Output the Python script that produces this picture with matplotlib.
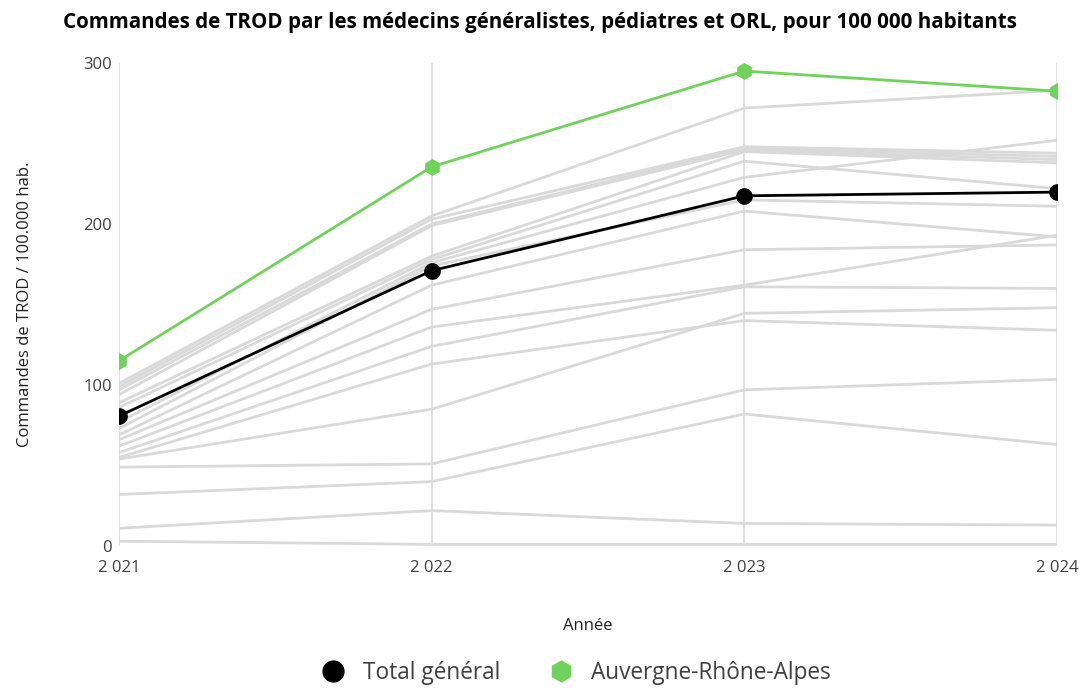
import numpy as np
import matplotlib
matplotlib.use("Agg")
import matplotlib.pyplot as plt
from matplotlib.lines import Line2D

plt.rcParams['font.family'] = ['Open Sans', 'DejaVu Sans']

years = [2021, 2022, 2023, 2024]
year_labels = ["2 021", "2 022", "2 023", "2 024"]

# other regions (grey background lines), values per 100 000 inhabitants
regions_2021 = [101, 99, 97, 94, 89, 86, 77, 73, 69, 66, 62, 58, 55, 54, 49, 32, 11, 3]
regions_2022 = [205, 203, 200, 199, 180, 178, 176, 174, 162, 147, 136, 124, 113, 85, 51, 40, 22, 1]
regions_2023 = [272, 248, 247, 246, 245, 239, 229, 215, 208, 184, 162, 161, 140, 144.5, 97, 82, 14, 1]
regions_2024 = [283, 244, 242, 240, 238, 222, 252, 211, 192, 187, 193, 160, 134, 148, 103.5, 63, 13, 1]

total_general = [80.7, 171, 217.5, 219.8]
auvergne_rha = [115, 235.5, 295, 282.5]

grey = '#d9d9d9'
green = '#6fd25a'

fig = plt.figure(figsize=(10.87, 6.9), dpi=100)
ax = fig.add_axes([0.1095, 0.2087, 0.8629, 0.7])

regions = np.array([regions_2021, regions_2022, regions_2023, regions_2024])
for i in range(regions.shape[1]):
    ax.plot(years, regions[:, i], color=grey, lw=2, zorder=1)

ax.plot(years, total_general, color='black', lw=2, marker='o', ms=11, zorder=3)
ax.plot(years, auvergne_rha, color=green, lw=2, marker='h', ms=11, zorder=3)

ax.set_xlim(2021, 2024)
ax.set_ylim(0, 300)
ax.set_xticks(years)
ax.set_xticklabels(year_labels)
ax.set_yticks([0, 100, 200, 300])
ax.tick_params(length=0, labelsize=12, colors='#404040', pad=5)
ax.tick_params(axis='x', pad=10)
for s in ax.spines.values():
    s.set_visible(False)
ax.grid(axis='x', color=grey, lw=1.2, zorder=0)
ax.set_axisbelow(True)

ax.set_xlabel("Année", fontsize=12, color='#202020', labelpad=30)
ax.set_ylabel("Commandes de TROD / 100.000 hab.", fontsize=12, color='#202020', labelpad=36)

fig.text(0.058, 0.968, "Commandes de TROD par les médecins généralistes, pédiatres et ORL, pour 100 000 habitants",
         fontsize=14.8, fontweight='bold', ha='left', va='center')

handles = [Line2D([], [], color='black', marker='o', ls='none', ms=15),
           Line2D([], [], color=green, marker='h', ls='none', ms=15)]
fig.legend(handles, ["Total général", "Auvergne-Rhône-Alpes"], loc='center',
           bbox_to_anchor=(0.525, 0.025), ncol=2, frameon=False, fontsize=16.3,
           handletextpad=0.3, columnspacing=1.7, labelcolor='#404040')

fig.savefig("out.png", dpi=100)
